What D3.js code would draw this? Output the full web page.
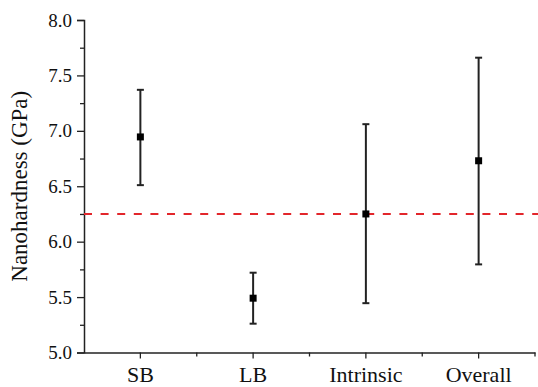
<!DOCTYPE html>
<html><head><meta charset="utf-8">
<script src="https://cdn.jsdelivr.net/npm/d3@7/dist/d3.min.js"></script>
<style>body{margin:0;background:#fff}svg{display:block}
text{font-family:"Liberation Serif","Times New Roman","DejaVu Serif",serif;}</style>
</head><body><svg id="c" width="538" height="387"></svg>
<script>
const categories = ["SB", "LB", "Intrinsic", "Overall"];
const means = [6.945, 5.49, 6.25, 6.73];
const upper = [7.37, 5.72, 7.06, 7.66];
const lower = [6.51, 5.26, 5.445, 5.795];
const refLine = 6.25;
const yTicks = [5.0, 5.5, 6.0, 6.5, 7.0, 7.5, 8.0];
const yMinor = [5.25, 5.75, 6.25, 6.75, 7.25, 7.75];

const svg = d3.select("#c");
const L = 84, R = 535, T = 20, B = 352.5;
const x = d3.scaleBand().domain(categories).range([L, R]);
const y = d3.scaleLinear().domain([5, 8]).range([B, T]);
const font = '"Liberation Serif","Times New Roman","DejaVu Serif",serif';
const ink = "#222";

const ya = svg.append("g").attr("transform", `translate(${L},0)`)
  .call(d3.axisLeft(y).tickValues(yTicks).tickFormat(d3.format(".1f")).tickSize(7).tickPadding(5));
svg.append("g").attr("transform", `translate(${L},0)`)
  .call(d3.axisLeft(y).tickValues(yMinor).tickFormat("").tickSize(4))
  .call(g => g.select(".domain").remove());

const xa = svg.append("g").attr("transform", `translate(0,${B})`)
  .call(d3.axisBottom(x).tickSize(6).tickSizeOuter(0).tickPadding(8));
svg.append("g").attr("transform", `translate(0,${B})`)
  .call(g => g.selectAll("line").data(categories).join("line")
    .attr("x1", d => x(d) + x.bandwidth()).attr("x2", d => x(d) + x.bandwidth())
    .attr("y1", 0).attr("y2", 4).attr("stroke", ink).attr("stroke-width", 1.3));

svg.selectAll(".domain").attr("stroke", ink).attr("stroke-width", 1.5);
svg.selectAll(".tick line").attr("stroke", ink).attr("stroke-width", 1.3);
svg.selectAll("g").attr("font-family", null);
ya.selectAll("text").style("font-family", font).attr("font-size", 19).attr("fill", "#111");
xa.selectAll("text").style("font-family", font).attr("font-size", 22).attr("fill", "#111");

svg.append("line").attr("x1", L).attr("x2", 538).attr("y1", y(refLine)).attr("y2", y(refLine))
  .attr("stroke", "#e2262b").attr("stroke-width", 2).attr("stroke-dasharray", "8,8.6");

const cx = d => x(d) + x.bandwidth() / 2;
const eb = svg.append("g");
categories.forEach((c, i) => {
  eb.append("line").attr("x1", cx(c)).attr("x2", cx(c)).attr("y1", y(upper[i])).attr("y2", y(lower[i]))
    .attr("stroke", ink).attr("stroke-width", 2);
  [upper[i], lower[i]].forEach(v => eb.append("line")
    .attr("x1", cx(c) - 3.5).attr("x2", cx(c) + 3.5).attr("y1", y(v)).attr("y2", y(v))
    .attr("stroke", ink).attr("stroke-width", 2));
  eb.append("rect").attr("x", cx(c) - 3.5).attr("y", y(means[i]) - 3.5).attr("width", 7).attr("height", 7)
    .attr("fill", "#000");
});

svg.append("text").attr("transform", `translate(27,${(T + B) / 2}) rotate(-90)`)
  .attr("text-anchor", "middle").style("font-family", font).attr("font-size", 23).attr("fill", "#111")
  .text("Nanohardness (GPa)");
</script></body></html>
